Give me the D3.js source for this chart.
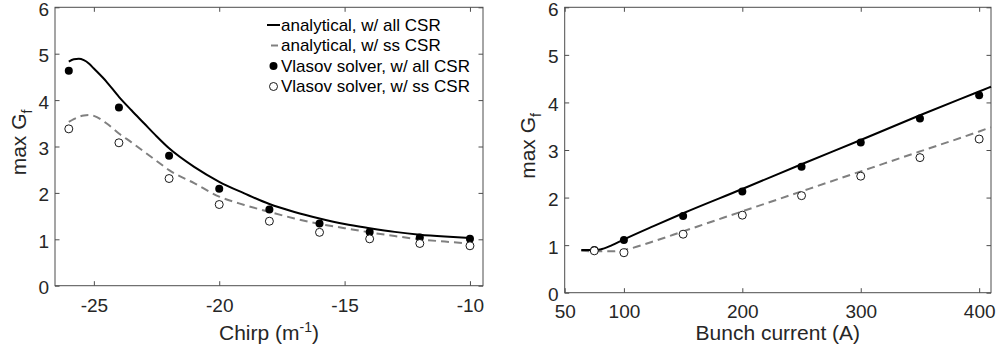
<!DOCTYPE html>
<html>
<head>
<meta charset="utf-8">
<script src="https://d3js.org/d3.v7.min.js"></script>
<style>
  body { margin: 0; background: #fff; }
  svg { font-family: "Liberation Sans", Arial, Helvetica, sans-serif; }
</style>
</head>
<body>
<svg id="chart" width="997" height="354"></svg>
<script>
// left panel: max G_f vs chirp
const chirpPts = [-26, -24, -22, -20, -18, -16, -14, -12, -10];
const vlasovAllChirp = [4.63, 3.84, 2.80, 2.09, 1.64, 1.34, 1.16, 1.04, 1.01];
const vlasovSsChirp = [3.38, 3.08, 2.31, 1.75, 1.39, 1.15, 1.01, 0.91, 0.86];

const chirpCurveX = [-26, -25.8, -25.6, -25.4, -25.2, -25, -24.5, -24, -23.5, -23, -22.5, -22, -21, -20, -19, -18, -17, -16, -15, -14, -13, -12, -11, -10];
const anaAllChirp = [4.83, 4.88, 4.89, 4.86, 4.79, 4.68, 4.40, 4.07, 3.78, 3.50, 3.22, 2.96, 2.56, 2.24, 1.99, 1.76, 1.59, 1.45, 1.33, 1.24, 1.16, 1.10, 1.06, 1.03];
const anaSsChirp  = [3.53, 3.59, 3.64, 3.67, 3.68, 3.66, 3.50, 3.28, 3.09, 2.89, 2.69, 2.49, 2.21, 1.92, 1.74, 1.59, 1.45, 1.33, 1.24, 1.15, 1.07, 1.00, 0.95, 0.91];

// right panel: max G_f vs bunch current
const currentPts = [75, 100, 150, 200, 250, 300, 350, 400];
const vlasovAllCur = [0.90, 1.11, 1.61, 2.13, 2.65, 3.16, 3.66, 4.15];
const vlasovSsCur = [0.88, 0.84, 1.23, 1.63, 2.04, 2.45, 2.84, 3.23];

const curCurveX = [64, 75, 80, 90, 100, 125, 150, 200, 250, 300, 350, 400, 410];
const anaAllCur = [0.90, 0.90, 0.91, 1.00, 1.12, 1.40, 1.67, 2.18, 2.70, 3.21, 3.73, 4.23, 4.33];
const anaSsCur  = [0.88, 0.87, 0.87, 0.87, 0.90, 1.08, 1.29, 1.71, 2.13, 2.55, 2.97, 3.39, 3.48];

const yTicks = [0, 1, 2, 3, 4, 5, 6];
const chirpTicks = [-25, -20, -15, -10];
const currentTicks = [50, 100, 200, 300, 400];

const legendLabels = ["analytical, w/ all CSR", "analytical, w/ ss CSR", "Vlasov solver, w/ all CSR", "Vlasov solver, w/ ss CSR"];

const svg = d3.select("#chart");
const AX = "#4d4d4d";
const TXT = "#262626";
const FONT = '"Liberation Sans", Arial, Helvetica, sans-serif';

function panel(opt) {
  const x = d3.scaleLinear().domain(opt.xDomain).range([opt.left, opt.right]);
  const y = d3.scaleLinear().domain([0, 6]).range([opt.bottom, opt.top]);
  const g = svg.append("g");

  // box frame
  g.append("rect")
    .attr("x", opt.left).attr("y", opt.top)
    .attr("width", opt.right - opt.left).attr("height", opt.bottom - opt.top)
    .attr("fill", "none").attr("stroke", AX).attr("stroke-width", 1);

  const tk = 4.5;
  const xb = g.append("g").attr("transform", `translate(0,${opt.bottom})`)
    .call(d3.axisBottom(x).tickValues(opt.xTicks).tickSize(-tk).tickPadding(opt.xPad).tickFormat(d => String(d)));
  const xt = g.append("g").attr("transform", `translate(0,${opt.top})`)
    .call(d3.axisTop(x).tickValues(opt.xTicks).tickSize(-tk).tickFormat(""));
  const yl = g.append("g").attr("transform", `translate(${opt.left},0)`)
    .call(d3.axisLeft(y).tickValues(yTicks).tickSize(-tk).tickPadding(6).tickFormat(d3.format("d")));
  const yr = g.append("g").attr("transform", `translate(${opt.right},0)`)
    .call(d3.axisRight(y).tickValues(yTicks).tickSize(-tk).tickFormat(""));
  [xb, xt, yl, yr].forEach(a => {
    a.attr("font-size", null).attr("font-family", null);
    a.select(".domain").remove();
    a.selectAll("line").attr("stroke", AX);
    a.selectAll("text").attr("fill", TXT).attr("font-size", 19).attr("font-family", FONT);
  });
  xb.selectAll("text").attr("dy", "0.71em");
  yl.selectAll("text").attr("dy", "0.42em");

  // curves
  const line = d3.line().x(d => x(d[0])).y(d => y(d[1])).curve(d3.curveMonotoneX);
  g.append("path")
    .datum(opt.curveX.map((v, i) => [v, opt.ss[i]]))
    .attr("d", line).attr("fill", "none")
    .attr("stroke", "#808080").attr("stroke-width", 2).attr("stroke-dasharray", "8,5");
  g.append("path")
    .datum(opt.curveX.map((v, i) => [v, opt.all[i]]))
    .attr("d", line).attr("fill", "none")
    .attr("stroke", "#000").attr("stroke-width", 2);

  // Vlasov points
  g.append("g").selectAll("circle")
    .data(opt.pts.map((v, i) => [v, opt.vAll[i]])).join("circle")
    .attr("cx", d => x(d[0])).attr("cy", d => y(d[1])).attr("r", 4)
    .attr("fill", "#000");
  g.append("g").selectAll("circle")
    .data(opt.pts.map((v, i) => [v, opt.vSs[i]])).join("circle")
    .attr("cx", d => x(d[0])).attr("cy", d => y(d[1])).attr("r", 4)
    .attr("fill", "#fff").attr("stroke", "#000").attr("stroke-width", 0.9);

  // axis labels
  const xl = g.append("text")
    .attr("x", (opt.left + opt.right) / 2).attr("y", 340)
    .attr("text-anchor", "middle").attr("fill", TXT).attr("font-size", 21);
  opt.xLabel(xl);
  const ylab = g.append("text")
    .attr("transform", `translate(${opt.yLabelX},${(opt.top + opt.bottom) / 2 - 4}) rotate(-90)`)
    .attr("text-anchor", "middle").attr("fill", TXT).attr("font-size", 21);
  ylab.append("tspan").text("max G");
  ylab.append("tspan").attr("dy", 6).attr("font-size", 14).text("f");

  return { g, x, y };
}

panel({
  left: 55, right: 483, top: 7.3, bottom: 285.7,
  xDomain: [-26.55, -9.48], xTicks: chirpTicks, xPad: 13,
  curveX: chirpCurveX, all: anaAllChirp, ss: anaSsChirp,
  pts: chirpPts, vAll: vlasovAllChirp, vSs: vlasovSsChirp,
  yLabelX: 26,
  xLabel: t => {
    t.append("tspan").text("Chirp (m");
    t.append("tspan").attr("dy", -8).attr("font-size", 14).text("-1");
    t.append("tspan").attr("dy", 8).text(")");
  }
});

panel({
  left: 564.7, right: 991, top: 7.3, bottom: 292.7,
  xDomain: [50, 410], xTicks: currentTicks, xPad: 12,
  curveX: curCurveX, all: anaAllCur, ss: anaSsCur,
  pts: currentPts, vAll: vlasovAllCur, vSs: vlasovSsCur,
  yLabelX: 535,
  xLabel: t => t.text("Bunch current (A)")
});

// legend (left panel, upper right, no box)
const leg = svg.append("g");
const legY = [25, 45.5, 66, 86.5];
legendLabels.forEach((lab, i) => {
  const row = leg.append("g").attr("transform", `translate(267,${legY[i]})`);
  if (i === 0) row.append("line").attr("x1", 0).attr("x2", 13).attr("stroke", "#000").attr("stroke-width", 2);
  if (i === 1) row.append("line").attr("x1", 4).attr("x2", 11).attr("stroke", "#808080").attr("stroke-width", 2);
  if (i === 2) row.append("circle").attr("cx", 6.5).attr("r", 4).attr("fill", "#000");
  if (i === 3) row.append("circle").attr("cx", 6.5).attr("r", 4).attr("fill", "#fff").attr("stroke", "#000").attr("stroke-width", 0.9);
  row.append("text").attr("x", 14).attr("dy", "0.35em")
    .attr("fill", "#000").attr("font-size", 17).text(lab);
});
</script>
</body>
</html>
